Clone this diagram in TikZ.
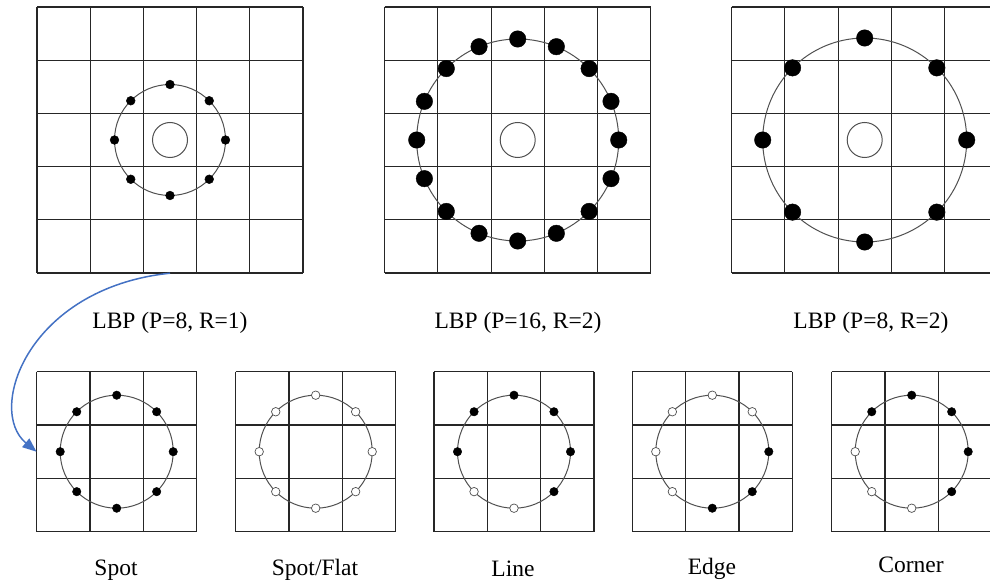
\documentclass[tikz,border=0pt]{standalone}
\usepackage{fontspec}
\setmainfont{Liberation Serif}
\usetikzlibrary{arrows.meta}
\definecolor{gridc}{HTML}{262626}
\definecolor{ringc}{HTML}{505050}
\definecolor{arrowc}{HTML}{4472C4}
\tikzset{
  gl/.style={draw=gridc, line width=1.1pt},
  ring/.style={circle, draw=ringc, line width=1pt, inner sep=0pt, fill=none},
  fdot/.style={circle, fill=black, draw=black, inner sep=0pt, minimum size=#1},
  odot/.style={circle, fill=white, draw=ringc, line width=0.7pt, inner sep=0pt, minimum size=#1},
  lbl/.style={font=\fontsize{23.5}{28}\selectfont, inner sep=0pt, anchor=base},
  conn/.style={draw=arrowc, line width=1.5pt, -{Triangle[length=14pt,width=11pt]}}
}
\begin{document}
\begin{tikzpicture}[x=1pt,y=-1pt]
\useasboundingbox (0,0) rectangle (990,580);
\clip (0,0) rectangle (990,580);
% ---------- top grids (5x5) ----------
\foreach \gx/\nm in {37/g1, 384.7/g2, 731.7/g3}{
  \node[draw=none, inner sep=0pt, minimum size=266pt] (\nm) at ({\gx+133},140) {};
  \foreach \i in {0,...,5}{
    \draw[gl] ({\gx+\i*53.2},7) -- ({\gx+\i*53.2},273);
    \draw[gl] (\gx,{7+\i*53.2}) -- ({\gx+266},{7+\i*53.2});
  }
  \node[ring, minimum size=35pt] (\nm c) at (\nm.center) {};
}
% LBP (P=8, R=1)
\node[ring, minimum size=111pt] (r1) at (g1.center) {};
\foreach \a in {0,45,...,315}
  \path (g1.center) ++(-\a:55.5) node[fdot=8.8pt] (d1-\a) {};
% LBP (P=16, R=2)
\node[ring, minimum size=202pt] (r2) at (g2.center) {};
\foreach \a in {0,22.5,...,337.5}
  \path (g2.center) ++(-\a:101) node[fdot=16.5pt] (d2-\a) {};
% LBP (P=8, R=2)
\node[ring, minimum size=204pt] (r3) at (g3.center) {};
\foreach \a in {0,45,...,315}
  \path (g3.center) ++(-\a:102) node[fdot=16.5pt] (d3-\a) {};
% labels top
\node[lbl] (t1) at (170,328.5) {LBP (P=8, R=1)};
\node[lbl] (t2) at (518,328.5) {LBP (P=16, R=2)};
\node[lbl] (t3) at (871,328.5) {LBP (P=8, R=2)};
% ---------- bottom grids (3x3) ----------
\foreach \gx/\nm in {36.7/b1, 235.7/b2, 434/b3, 632.3/b4, 831.7/b5}{
  \node[draw=none, inner sep=0pt, minimum size=160pt] (\nm) at ({\gx+80},451.7) {};
  \foreach \i in {0,...,3}{
    \draw[gl] ({\gx+\i*53.33},371.7) -- ({\gx+\i*53.33},531.7);
    \draw[gl] (\gx,{371.7+\i*53.33}) -- ({\gx+160},{371.7+\i*53.33});
  }
  \node[ring, minimum size=113pt] (\nm r) at (\nm.center) {};
}
% Spot: all filled
\foreach \a in {0,45,...,315}
  \path (b1.center) ++(-\a:56.5) node[fdot=8.5pt] (s1-\a) {};
% Spot/Flat: all open
\foreach \a in {0,45,...,315}
  \path (b2.center) ++(-\a:56.5) node[odot=8.5pt] (s2-\a) {};
% Line
\foreach \a in {0,45,90,135,180,315}
  \path (b3.center) ++(-\a:56.5) node[fdot=8.5pt] (s3-\a) {};
\foreach \a in {225,270}
  \path (b3.center) ++(-\a:56.5) node[odot=8.5pt] (s3-\a) {};
% Edge
\foreach \a in {0,270,315}
  \path (b4.center) ++(-\a:56.5) node[fdot=8.5pt] (s4-\a) {};
\foreach \a in {45,90,135,180,225}
  \path (b4.center) ++(-\a:56.5) node[odot=8.5pt] (s4-\a) {};
% Corner
\foreach \a in {0,45,90,135,315}
  \path (b5.center) ++(-\a:56.5) node[fdot=8.5pt] (s5-\a) {};
\foreach \a in {180,225,270}
  \path (b5.center) ++(-\a:56.5) node[odot=8.5pt] (s5-\a) {};
% bottom labels
\node[lbl] (l1) at (116,575) {Spot};
\node[lbl] (l2) at (315,575) {Spot/Flat};
\node[lbl] (l3) at (513,576) {Line};
\node[lbl] (l4) at (712,574) {Edge};
\node[lbl] (l5) at (911,572) {Corner};
% connector
\draw[conn] (g1.south) .. controls (28,288) and (-14,410) .. (b1.west);
\end{tikzpicture}
\end{document}
